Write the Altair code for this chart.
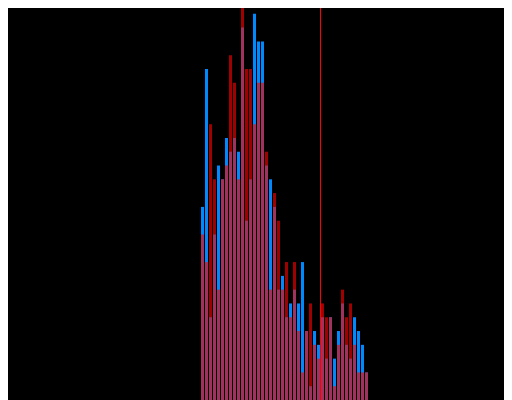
import altair as alt
import pandas as pd

# Histogram counts per bin (bins of equal width)
bin_index = list(range(42))
blue_counts = [14, 24, 6, 12, 17, 16, 19, 18, 19, 18, 27, 13, 16, 28, 26, 26, 17, 16, 14, 8, 9,
               6, 7, 8, 7, 10, 5, 1, 5, 4, 6, 3, 6, 3, 5, 7, 4, 3, 6, 5, 4, 2]
red_counts = [12, 10, 20, 16, 8, 16, 17, 25, 23, 16, 29, 24, 24, 20, 23, 23, 18, 8, 15, 13, 8,
              10, 6, 10, 5, 2, 5, 7, 4, 3, 7, 6, 6, 1, 4, 8, 6, 7, 4, 2, 2, 2]
marker_value = 29.875

df = pd.DataFrame({
    "start": bin_index,
    "end": [b + 1 for b in bin_index],
    "blue": blue_counts,
    "red": red_counts,
})

xscale = alt.Scale(domain=[-48.25, 75.75], nice=False, zero=False)
# the reference frame cuts the tallest bar at its upper edge
yscale = alt.Scale(domain=[0, 28.42], nice=False)

base = alt.Chart(df)

blue = base.mark_bar(color="#0088ff", x2Offset=-1, clip=True).encode(
    x=alt.X("start:Q", scale=xscale, axis=None),
    x2="end:Q",
    y=alt.Y("blue:Q", scale=yscale, axis=None),
    y2=alt.datum(0),
)
red = base.mark_bar(color="#ff0000", opacity=0.63, x2Offset=-1, clip=True).encode(
    x=alt.X("start:Q", scale=xscale, axis=None),
    x2="end:Q",
    y=alt.Y("red:Q", scale=yscale, axis=None),
    y2=alt.datum(0),
)
line = alt.Chart(pd.DataFrame({"v": [marker_value]})).mark_rule(
    color="#ff0000", strokeWidth=1, opacity=1
).encode(x=alt.X("v:Q", scale=xscale, axis=None))

chart = (
    alt.layer(blue, red, line)
    .properties(width=496, height=392, background="black", padding=0,
                autosize=alt.AutoSizeParams(type="none"))
    .configure_view(stroke=None)
)

chart.save("out.html", embed_options={"renderer": "svg", "actions": False})
